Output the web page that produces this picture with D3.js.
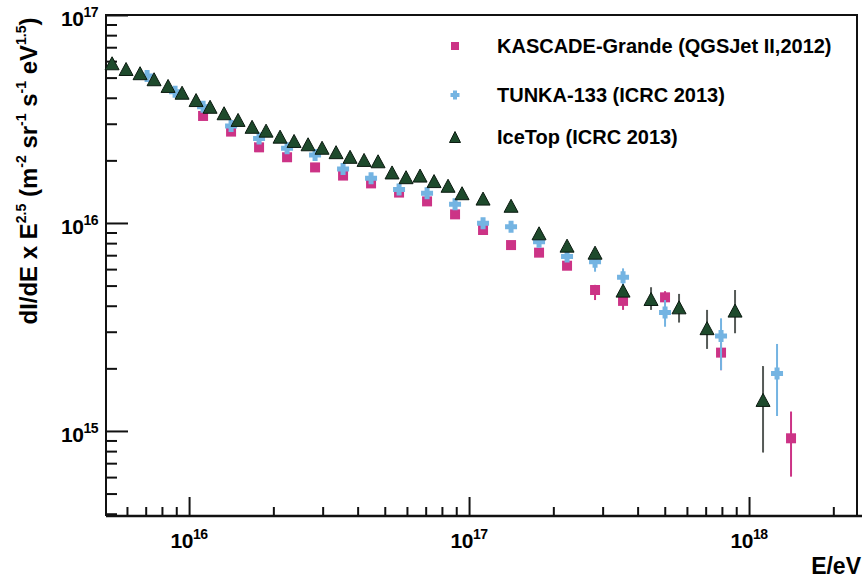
<!DOCTYPE html>
<html>
<head>
<meta charset="utf-8">
<script src="https://cdn.jsdelivr.net/npm/d3@7"></script>
<style>
  body { margin: 0; background: #fff; }
  svg { display: block; font-family: 'Liberation Sans', Arial, sans-serif; font-weight: bold; }
</style>
</head>
<body>
<svg id="chart" width="862" height="581"></svg>
<script>
// bin centres are log10(E/eV), flux is dI/dE x E^2.5, errors are [low, high] or null

const kascadeLgE = [16.05, 16.15, 16.25, 16.35, 16.45, 16.55, 16.65, 16.75, 16.85, 16.95,
    17.05, 17.15, 17.25, 17.35, 17.45, 17.55, 17.7, 17.9, 18.15]
const kascadeFlux = [3.27e16, 2.75e16, 2.31e16, 2.07e16, 1.85e16, 1.69e16, 1.55e16, 1.40e16, 1.27e16, 1.10e16,
    9.25e15, 7.83e15, 7.20e15, 6.23e15, 4.76e15, 4.22e15, 4.39e15, 2.38e15, 9.22e14]
const kascadeErr = [null, null, null, null, null, null, null, null, null, null,
    null, null, null, null, [4.26e15, 5.04e15], [3.82e15, 4.43e15], [4.10e15, 4.70e15], [1.96e15, 2.65e15], [6.03e14, 1.24e15]]

const tunkaLgE = [15.85, 15.95, 16.05, 16.15, 16.25, 16.35, 16.45, 16.55, 16.65, 16.75, 16.85,
    16.95, 17.05, 17.15, 17.25, 17.35, 17.45, 17.55, 17.7, 17.9, 18.1]
const tunkaFlux = [5.09e16, 4.28e16, 3.62e16, 2.93e16, 2.55e16, 2.29e16, 2.12e16, 1.82e16, 1.64e16, 1.45e16, 1.39e16,
    1.23e16, 9.97e15, 9.60e15, 8.13e15, 6.89e15, 6.51e15, 5.48e15, 3.71e15, 2.86e15, 1.89e15]
const tunkaErr = [null, null, null, null, null, null, null, null, null, null, null,
    null, null, null, null, null, [5.83e15, 6.64e15], [4.94e15, 6.05e15], [3.17e15, 4.26e15], [1.96e15, 3.48e15], [1.18e15, 2.62e15]]

const icetopLgE = [15.725, 15.775, 15.825, 15.875, 15.925, 15.975, 16.025, 16.075, 16.125, 16.175,
    16.225, 16.275, 16.325, 16.375, 16.425, 16.475, 16.525, 16.575, 16.625, 16.675,
    16.725, 16.775, 16.825, 16.875, 16.925, 16.975, 17.05, 17.15, 17.25, 17.35,
    17.45, 17.55, 17.65, 17.75, 17.85, 17.95, 18.05]
const icetopFlux = [5.86e16, 5.50e16, 5.25e16, 4.91e16, 4.56e16, 4.23e16, 3.90e16, 3.62e16, 3.37e16, 3.13e16,
    2.90e16, 2.78e16, 2.60e16, 2.48e16, 2.39e16, 2.30e16, 2.19e16, 2.08e16, 2.01e16, 1.98e16,
    1.75e16, 1.66e16, 1.69e16, 1.59e16, 1.51e16, 1.39e16, 1.31e16, 1.21e16, 8.92e15, 7.78e15,
    7.20e15, 4.73e15, 4.31e15, 3.93e15, 3.12e15, 3.79e15, 1.41e15]
const icetopErr = [null, null, null, null, null, null, null, null, null, null,
    null, null, null, null, null, null, null, null, null, null,
    null, null, null, null, null, null, null, null, null, null,
    null, [4.50e15, 4.98e15], [3.82e15, 4.91e15], [3.32e15, 4.56e15], [2.48e15, 3.82e15], [2.95e15, 4.76e15], [7.87e14, 2.05e15]]

const legendLabels = ['KASCADE-Grande (QGSJet II,2012)', 'TUNKA-133 (ICRC 2013)', 'IceTop (ICRC 2013)']
const xTickExponents = [16, 17, 18]
const yTickExponents = [15, 16, 17]

const width = 862
const height = 581
const plot = { left: 106, right: 857, top: 15, bottom: 516 }

const svg = d3.select('#chart')

const x = d3.scaleLog()
    .domain([5.05e15, 2.43e18])
    .range([plot.left, plot.right])

const y = d3.scaleLog()
    .domain([3.9e14, 1e17])
    .range([plot.bottom, plot.top])

const isDecade = v => Math.abs(Math.log10(v) - Math.round(Math.log10(v))) < 1e-6

// marker paths, centred on the point
const squarePath = s => `M${-s / 2},${-s / 2}h${s}v${s}h${-s}Z`
const trianglePath = (w, h) => `M0,${-h / 2}L${w / 2},${h / 2}L${-w / 2},${h / 2}Z`
// fat plus: total size s, arm thickness a
const crossPath = (s, a) => {
    const o = s / 2
    const i = a / 2
    return `M${-i},${-o}H${i}V${-i}H${o}V${i}H${i}V${o}H${-i}V${i}H${-o}V${-i}H${-i}Z`
}

const series = [
    { lgE: kascadeLgE, flux: kascadeFlux, err: kascadeErr, color: '#cc3386', barColor: '#cc3386',
        path: squarePath(10), legendPath: squarePath(8), stroke: 'none' },
    { lgE: tunkaLgE, flux: tunkaFlux, err: tunkaErr, color: '#74b4e2', barColor: '#74b4e2',
        path: crossPath(12, 5), legendPath: crossPath(9, 4), stroke: 'none' },
    { lgE: icetopLgE, flux: icetopFlux, err: icetopErr, color: '#1e4a2c', barColor: '#555a57',
        path: trianglePath(14, 13), legendPath: trianglePath(11, 11), stroke: '#0b1a10' },
]

// axes: inward ticks, long ones at the decades
const xAxis = svg.append('g')
    .attr('transform', `translate(0,${plot.bottom})`)
    .call(d3.axisBottom(x).tickValues(x.ticks()).tickFormat('').tickSizeOuter(0))
xAxis.select('.domain').remove()
xAxis.selectAll('.tick line')
    .attr('y2', d => (isDecade(d) ? -19 : -9))
    .attr('stroke', '#111')
    .attr('stroke-width', 2)

const yAxis = svg.append('g')
    .attr('transform', `translate(${plot.left},0)`)
    .call(d3.axisLeft(y).tickValues(y.ticks()).tickFormat('').tickSizeOuter(0))
yAxis.select('.domain').remove()
yAxis.selectAll('.tick line')
    .attr('x2', d => (isDecade(d) ? 22 : 11))
    .attr('stroke', '#111')
    .attr('stroke-width', 2)

// frame
svg.append('path')
    .attr('d', `M${plot.left},${plot.bottom}V${plot.top}H${plot.right}V${plot.bottom}`)
    .attr('fill', 'none')
    .attr('stroke', '#111')
    .attr('stroke-width', 2)
svg.append('line')
    .attr('x1', plot.left).attr('x2', width)
    .attr('y1', plot.bottom).attr('y2', plot.bottom)
    .attr('stroke', '#111')
    .attr('stroke-width', 2.5)

// power-of-ten labels
function powerLabel(sel, exp) {
    sel.append('tspan').text('10')
    sel.append('tspan')
        .attr('dy', -9)
        .attr('font-size', 14)
        .text(exp)
}

xTickExponents.forEach((e) => {
    svg.append('text')
        .attr('x', x(10 ** e))
        .attr('y', plot.bottom + 32)
        .attr('text-anchor', 'middle')
        .attr('font-size', 21)
        .attr('letter-spacing', -0.5)
        .call(powerLabel, e)
})

yTickExponents.forEach((e) => {
    svg.append('text')
        .attr('x', 98)
        .attr('y', y(10 ** e) + 11)
        .attr('text-anchor', 'end')
        .attr('font-size', 21)
        .attr('letter-spacing', -0.5)
        .call(powerLabel, e)
})

// axis titles
svg.append('text')
    .attr('x', 861)
    .attr('y', 574)
    .attr('text-anchor', 'end')
    .attr('font-size', 23)
    .text('E/eV')

const yTitle = svg.append('text')
    .attr('transform', 'translate(37,171) rotate(-90)')
    .attr('text-anchor', 'middle')
    .attr('font-size', 24)
const titleParts = [['dI/dE x E', false], ['2.5', true], [' (m', false], ['-2', true], [' sr', false],
    ['-1', true], [' s', false], ['-1', true], [' eV', false], ['1.5', true], [')', false]]
let raised = false
titleParts.forEach(([t, sup]) => {
    const ts = yTitle.append('tspan').text(t)
    if (sup !== raised) ts.attr('dy', sup ? -11 : 11)
    if (sup) ts.attr('font-size', 14)
    raised = sup
})

// error bars, then markers
series.forEach((s) => {
    const g = svg.append('g')
    s.lgE.forEach((lg, i) => {
        const err = s.err[i]
        if (!err) return
        g.append('line')
            .attr('x1', x(10 ** lg)).attr('x2', x(10 ** lg))
            .attr('y1', y(err[0])).attr('y2', y(err[1]))
            .attr('stroke', s.barColor)
            .attr('stroke-width', 2)
    })
    g.selectAll('path.marker')
        .data(s.lgE.map((lg, i) => ({ e: 10 ** lg, f: s.flux[i] })))
        .enter()
        .append('path')
        .attr('class', 'marker')
        .attr('d', s.path)
        .attr('transform', d => `translate(${x(d.e)},${y(d.f)})`)
        .attr('fill', s.color)
        .attr('stroke', s.stroke)
        .attr('stroke-width', 1)
})

// legend
const legendY = [46, 95, 137]
series.forEach((s, i) => {
    svg.append('path')
        .attr('d', s.legendPath)
        .attr('transform', `translate(455,${legendY[i]})`)
        .attr('fill', s.color)
        .attr('stroke', s.stroke)
    svg.append('text')
        .attr('x', 497)
        .attr('y', legendY[i] + 7)
        .attr('font-size', 20)
        .text(legendLabels[i])
})
</script>
</body>
</html>
